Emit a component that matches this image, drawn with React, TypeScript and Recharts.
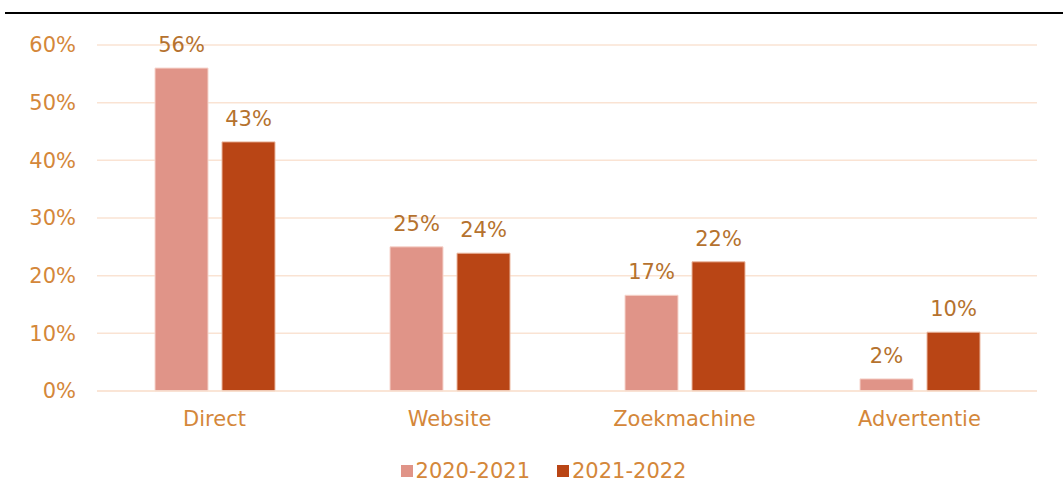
import { Bar, BarChart, CartesianGrid, LabelList, Legend, XAxis, YAxis } from "recharts";

// ---------------------------------------------------------------------------
// Data
// ---------------------------------------------------------------------------

const CATEGORIES = ["Direct", "Website", "Zoekmachine", "Advertentie"];
const SERIES_2020 = [0.56, 0.25, 0.166, 0.021];
const SERIES_2021 = [0.432, 0.239, 0.224, 0.102];
const Y_TICKS = [0, 0.1, 0.2, 0.3, 0.4, 0.5, 0.6];

const data = CATEGORIES.map((name, i) => ({
  name,
  a: SERIES_2020[i],
  b: SERIES_2021[i],
}));

// ---------------------------------------------------------------------------
// Styling
// ---------------------------------------------------------------------------

const FONT = "Verdana, 'DejaVu Sans', sans-serif";
const FONT_SIZE = 21;
const TICK_FILL = "#D4873A";
const LABEL_FILL = "#B5722E";
const GRID_STROKE = "#FAE3D3";
const COLOR_A = "#E09488";
const COLOR_B = "#B94515";

const pct = (v: number) => `${Math.round(v * 100)}%`;

function LegendContent() {
  const items = [
    { label: "2020-2021", color: COLOR_A },
    { label: "2021-2022", color: COLOR_B },
  ];
  return (
    <div style={{ display: "flex", justifyContent: "center", gap: 27, fontFamily: FONT }}>
      {items.map((it) => (
        <div key={it.label} style={{ display: "flex", alignItems: "center" }}>
          <span style={{ width: 12, height: 12, background: it.color, marginRight: 3 }} />
          <span style={{ fontSize: FONT_SIZE, color: TICK_FILL }}>{it.label}</span>
        </div>
      ))}
    </div>
  );
}

export default function App() {
  return (
    <div style={{ position: "absolute", left: 0, top: 0, width: 1063, height: 500, background: "#fff" }}>
      <div
        style={{
          position: "absolute",
          left: 5,
          right: 0,
          top: 12,
          height: 2,
          background: "#000",
        }}
      />
      <BarChart
        width={1063}
        height={500}
        data={data}
        margin={{ top: 45, right: 26, bottom: 35, left: 37 }}
        barSize={53}
        barGap={14}
      >
        <CartesianGrid vertical={false} stroke={GRID_STROKE} strokeWidth={1.5} />
        <XAxis
          dataKey="name"
          axisLine={{ stroke: GRID_STROKE, strokeWidth: 1.5 }}
          tickLine={false}
          tickSize={0}
          tickMargin={20}
          height={50}
          tick={{ fontSize: FONT_SIZE, fill: TICK_FILL, fontFamily: FONT }}
        />
        <YAxis
          domain={[0, 0.6]}
          ticks={Y_TICKS}
          tickFormatter={pct}
          axisLine={false}
          tickLine={false}
          tickSize={0}
          tickMargin={21}
          width={60}
          tick={{ fontSize: FONT_SIZE, fill: TICK_FILL, fontFamily: FONT }}
        />
        <Legend
          verticalAlign="bottom"
          content={<LegendContent />}
          wrapperStyle={{ left: 12, width: 1063, bottom: 17 }}
        />
        <Bar dataKey="a" fill={COLOR_A} stroke="#F6D4CC" strokeWidth={1} isAnimationActive={false}>
          <LabelList
            dataKey="a"
            position="top"
            offset={16}
            formatter={(v: number) => pct(v)}
            style={{ fontSize: FONT_SIZE, fill: LABEL_FILL, fontFamily: FONT }}
          />
        </Bar>
        <Bar dataKey="b" fill={COLOR_B} stroke="#EBB8A0" strokeWidth={1} isAnimationActive={false}>
          <LabelList
            dataKey="b"
            position="top"
            offset={16}
            formatter={(v: number) => pct(v)}
            style={{ fontSize: FONT_SIZE, fill: LABEL_FILL, fontFamily: FONT }}
          />
        </Bar>
      </BarChart>
    </div>
  );
}
